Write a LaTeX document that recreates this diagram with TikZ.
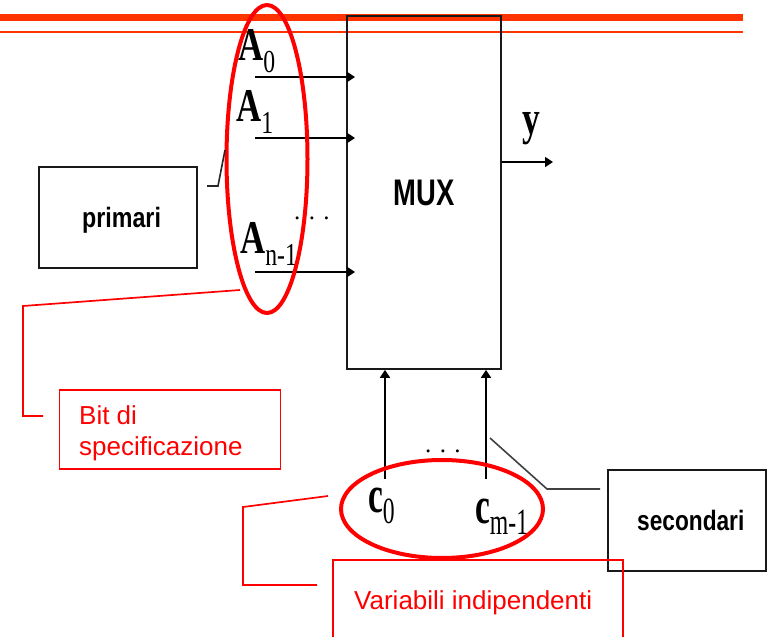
\documentclass[tikz,border=0pt]{standalone}
\usepackage{fontspec}
\setmainfont{Liberation Serif}
\newfontfamily\arialf{Liberation Sans}
\usetikzlibrary{arrows.meta,shapes.geometric}
\definecolor{barorange}{HTML}{FF3300}
\definecolor{redc}{HTML}{FF0000}
\newcommand\Alab[1]{\scalebox{0.74}[1]{\fontsize{47}{47}\selectfont\textbf{A}\raisebox{-12pt}{\fontsize{32}{32}\selectfont #1}}}
\newcommand\Clab[1]{\scalebox{0.64}[1]{\fontsize{52}{52}\selectfont\textbf{c}\raisebox{-11.5pt}{\fontsize{37}{37}\selectfont #1}}}
\begin{document}
\begin{tikzpicture}[x=1pt,y=-1pt,
  blkbox/.style={draw=black!90, line width=1.7pt, inner sep=0pt},
  redbox/.style={draw=redc, line width=1.7pt, inner sep=0pt},
  redline/.style={draw=redc, line width=1.7pt},
  blkline/.style={draw=black!85, line width=1.6pt},
  redell/.style={ellipse, draw=redc, line width=4pt, inner sep=0pt},
  arr/.style={line width=1.7pt, -{Triangle[length=8pt,width=10pt]}},
  lbl/.style={inner sep=0pt, anchor=base west},
  redtxt/.style={inner sep=0pt, text=redc, font=\arialf\fontsize{26}{31}\selectfont}]
\useasboundingbox (0,0) rectangle (769,637);
% top bars
\fill[barorange] (0,14) rectangle (743,21);
\draw[barorange, line width=2pt] (0,32) -- (743,32);
% MUX
\node[blkbox, minimum width=154pt, minimum height=353pt] (mux) at (424,192.5)
  {\scalebox{0.74}[1]{\arialf\bfseries\fontsize{37}{37}\selectfont MUX}};
% input arrows
\coordinate (a0s) at (255,77);  \coordinate (a0e) at (355,77);
\coordinate (a1s) at (255,138); \coordinate (a1e) at (355,138);
\coordinate (ans) at (255,272); \coordinate (ane) at (355,272);
\draw[arr] (a0s) -- (a0e);
\draw[arr] (a1s) -- (a1e);
\draw[arr] (ans) -- (ane);
% labels A
\node[lbl] (A0) at (238,60) {\Alab{0}};
\node[lbl] (A1) at (236,121) {\Alab{1}};
\node[lbl] (An) at (240,253) {\Alab{n-1}};
\node[lbl, font=\fontsize{25}{25}\selectfont] (dotsA) at (294,219) {. . .};
% output
\coordinate (yout) at (553,162);
\draw[arr] (yout -| mux.east) -- (yout);
\node[lbl] (ylab) at (522,134) {\scalebox{0.74}[1]{\fontsize{48}{48}\selectfont\textbf{y}}};
% control arrows
\coordinate (c0b) at (385,479);
\coordinate (cmb) at (486,479);
\draw[arr] (c0b) -- (c0b |- mux.south);
\draw[arr] (cmb) -- (cmb |- mux.south);
\node[lbl, font=\fontsize{25}{25}\selectfont] (dotsC) at (425,452) {. . .};
\node[lbl] (c0) at (368,512) {\Clab{0}};
\node[lbl] (cm) at (475,523) {\Clab{m-1}};
% ellipses
\node[redell, minimum width=81pt, minimum height=308pt] (ellA) at (267,159) {};
\node[redell, minimum width=202pt, minimum height=98pt] (ellC) at (442,509) {};
% primari
\node[blkbox, minimum width=158pt, minimum height=101pt] (pri) at (118,217.5) {};
\node[lbl] (pritxt) at (82,227) {\scalebox{0.83}[1]{\arialf\bfseries\fontsize{28}{28}\selectfont primari}};
\coordinate (p1) at (207,186); \coordinate (p2) at (218,186); \coordinate (p3) at (225,150);
\draw[blkline] (p1) -- (p2) -- (p3);
% secondari
\node[blkbox, minimum width=158pt, minimum height=101pt] (sec) at (687,520.5) {};
\node[lbl] (sectxt) at (637,530) {\scalebox{0.81}[1]{\arialf\bfseries\fontsize{28}{28}\selectfont secondari}};
\coordinate (s1) at (490,438); \coordinate (s2) at (547,489); \coordinate (s3) at (600,489);
\draw[blkline, draw=black!75] (s1) -- (s2) -- (s3);
% Bit di specificazione
\node[redbox, minimum width=221pt, minimum height=79pt] (bit) at (170,429.5) {};
\node[redtxt, anchor=north west, align=left] (bittxt) at (79,405) {Bit di\\specificazione};
\coordinate (b1) at (240,290); \coordinate (b2) at (23,306); \coordinate (b3) at (23,416); \coordinate (b4) at (43,416);
\draw[redline] (b1) -- (b2) -- (b3) -- (b4);
% Variabili indipendenti
\coordinate (v1) at (333,640); \coordinate (v2) at (333,560); \coordinate (v3) at (623,560); \coordinate (v4) at (623,640);
\draw[redline] (v1) -- (v2) -- (v3) -- (v4);
\node[redtxt, lbl] (vartxt) at (354,609) {Variabili indipendenti};
\coordinate (w1) at (328,496); \coordinate (w2) at (243,507); \coordinate (w3) at (243,585); \coordinate (w4) at (317,585);
\draw[redline] (w1) -- (w2) -- (w3) -- (w4);
\end{tikzpicture}
\end{document}
